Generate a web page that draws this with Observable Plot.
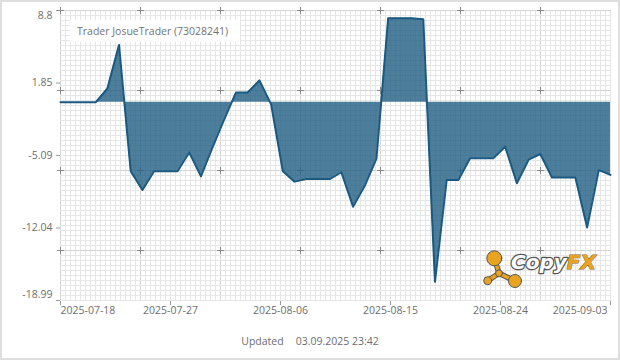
<!DOCTYPE html>
<html>
<head>
<meta charset="utf-8">
<script src="https://cdn.jsdelivr.net/npm/d3@7"></script>
<script src="https://cdn.jsdelivr.net/npm/@observablehq/plot@0.6"></script>
<style>
  body { margin: 0; background: #fff; font-family: "Open Sans", sans-serif; }
  #wrap { position: relative; width: 620px; height: 360px; overflow: hidden; background: #fff; }
  #chart { position: absolute; left: 0; top: 0; }
  #title { position: absolute; left: 70px; top: 20px; width: 170px; height: 22px; line-height: 22px;
           background: #fff; padding-left: 7px; box-sizing: border-box; color: #737373; font-size: 10.5px; white-space: nowrap; }
  #updated { position: absolute; left: 0; width: 620px; top: 334px; text-align: center; color: #6e6e6e; font-size: 10.5px; }
  #logo { position: absolute; left: 0; top: 0; pointer-events: none; }
  #frame { position: absolute; left: 0; top: 0; width: 620px; height: 360px; box-sizing: border-box;
           border: 2px solid #dedede; pointer-events: none; }
</style>
</head>
<body>
<div id="wrap">
  <div id="chart"></div>
  <div id="title"></div>
  <svg id="logo" width="620" height="360">
    <g stroke-linecap="round">
      <line x1="494.3" y1="258.3" x2="499" y2="273.3" stroke="#555" stroke-width="5.5"/>
      <line x1="499" y1="273.3" x2="487.7" y2="280.7" stroke="#555" stroke-width="5.5"/>
      <line x1="499" y1="273.3" x2="515" y2="281" stroke="#555" stroke-width="5.5"/>
      <line x1="494.3" y1="258.3" x2="499" y2="273.3" stroke="#e9a321" stroke-width="3.5"/>
      <line x1="499" y1="273.3" x2="487.7" y2="280.7" stroke="#e9a321" stroke-width="3.5"/>
      <line x1="499" y1="273.3" x2="515" y2="281" stroke="#e9a321" stroke-width="3.5"/>
      <g fill="#e9a321" stroke="#555" stroke-width="1">
        <circle cx="494.3" cy="258.3" r="7.5"/>
        <circle cx="499" cy="273.3" r="3.5"/>
        <circle cx="487.7" cy="280.7" r="4"/>
        <circle cx="515" cy="281" r="6.5"/>
      </g>
    </g>
    <text x="511" y="269" font-family="DejaVu Sans" font-weight="bold" font-style="italic" font-size="20"><tspan fill="#fff" stroke="#555" stroke-width="2.5" stroke-linejoin="round" paint-order="stroke">Copy</tspan><tspan fill="#e9a321" stroke="#8a6a2a" stroke-width="1" paint-order="stroke">FX</tspan></text>
  </svg>
  <div id="updated"><span id="updLabel"></span><span id="updTime" style="margin-left:12px"></span></div>
  <div id="frame"></div>
</div>
<script>
// ---- data ----
const chartTitle = "Trader JosueTrader (73028241)";
const updatedLabel = "Updated";
const updatedTime = "03.09.2025 23:42";
// daily values, 2025-07-18 .. 2025-09-03
const values = [
  0, 0, 0, 0, 1.3, 5.5, -6.6, -8.4, -6.6, -6.6,
  -6.6, -4.8, -7.1, -4.3, -1.6, 0.95, 0.95, 2.1, -0.2, -6.6,
  -7.6, -7.35, -7.35, -7.35, -6.7, -10.0, -8.0, -5.4, 8.05, 8.05,
  8.05, 7.95, -17.2, -7.45, -7.45, -5.35, -5.35, -5.35, -4.25, -7.75,
  -5.5, -4.95, -7.2, -7.2, -7.2, -12.0, -6.5, -6.95
];
const xTickLabels = ["2025-07-18", "2025-07-27", "2025-08-06", "2025-08-15", "2025-08-24", "2025-09-03"];
const yTicks = [8.8, 1.85, -5.09, -12.04, -18.99];

document.getElementById("title").textContent = chartTitle;
document.getElementById("updLabel").textContent = updatedLabel;
document.getElementById("updTime").textContent = updatedTime;

const data = values.map((v, i) => ({day: i, value: v}));
const n = values.length;
const step = (n - 1) / (xTickLabels.length - 1);
const xTicks = xTickLabels.map((_, i) => ({pos: i * step, label: xTickLabels[i]}));
const yTickRows = yTicks.map(v => ({v, label: String(v)}));

// decorative background grid (fine grid + major grid with crosses)
function gridMark(index, scales, vals, dims) {
  const x0 = dims.marginLeft, x1 = dims.width - dims.marginRight;
  const y0 = dims.marginTop, y1 = dims.height - dims.marginBottom;
  const g = d3.create("svg:g").attr("shape-rendering", "crispEdges");
  for (let x = x0; x <= x1 + 0.01; x += 5)
    g.append("line").attr("x1", x + 0.5).attr("x2", x + 0.5).attr("y1", y0).attr("y2", y1 + 1)
      .attr("stroke", (x - x0) % 80 === 0 ? "#d5d5d5" : "#e6e6e6");
  for (let y = y0; y <= y1 + 0.01; y += 5)
    g.append("line").attr("y1", y + 0.5).attr("y2", y + 0.5).attr("x1", x0).attr("x2", x1 + 1)
      .attr("stroke", (y - y0) % 80 === 0 ? "#d5d5d5" : "#e6e6e6");
  for (let x = x0; x < x1; x += 80)
    for (let y = y0; y < y1; y += 80) {
      g.append("line").attr("x1", x - 3).attr("x2", x + 4).attr("y1", y + 0.5).attr("y2", y + 0.5).attr("stroke", "#8a8a8a");
      g.append("line").attr("x1", x + 0.5).attr("x2", x + 0.5).attr("y1", y - 3).attr("y2", y + 4).attr("stroke", "#8a8a8a");
    }
  return g.node();
}

const textFill = "#6e6e6e";
const tickStroke = "#999";
const yMid = yTickRows.slice(1, -1), yTop = [yTickRows[0]], yBot = [yTickRows[yTickRows.length - 1]];
const xFirst = [xTicks[0]], xMid = xTicks.slice(1, -1), xLast = [xTicks[xTicks.length - 1]];
const yText = {y: "v", text: "label", frameAnchor: "left", textAnchor: "end", dx: -8, fill: textFill};
const xText = {x: "pos", text: "label", frameAnchor: "bottom", lineAnchor: "top", dy: 6, fill: textFill};

const plot = Plot.plot({
  width: 620,
  height: 320,
  marginLeft: 60,
  marginRight: 10,
  marginTop: 10,
  marginBottom: 20,
  style: {fontFamily: "'Open Sans', sans-serif", fontSize: "10.5px", background: "transparent", overflow: "visible", color: tickStroke},
  x: {type: "linear", domain: [0, n - 1], ticks: xTicks.map(d => d.pos), tickFormat: () => "", tickSize: 5, label: null},
  y: {domain: [d3.min(yTicks), d3.max(yTicks)], ticks: yTicks, tickFormat: () => "", tickSize: 4, label: null},
  marks: [
    gridMark,
    Plot.areaY(data, {x: "day", y: "value", fill: "#205e82", fillOpacity: 0.8}),
    Plot.lineY(data, {x: "day", y: "value", stroke: "#1a5a82", strokeWidth: 2}),
    Plot.text(yMid, yText),
    Plot.text(yTop, {...yText, dy: 5}),
    Plot.text(yBot, {...yText, dy: -6}),
    Plot.text(xFirst, {...xText, textAnchor: "start"}),
    Plot.text(xMid, xText),
    Plot.text(xLast, {...xText, textAnchor: "end", dx: -3})
  ]
});
document.getElementById("chart").appendChild(plot);
</script>
</body>
</html>
